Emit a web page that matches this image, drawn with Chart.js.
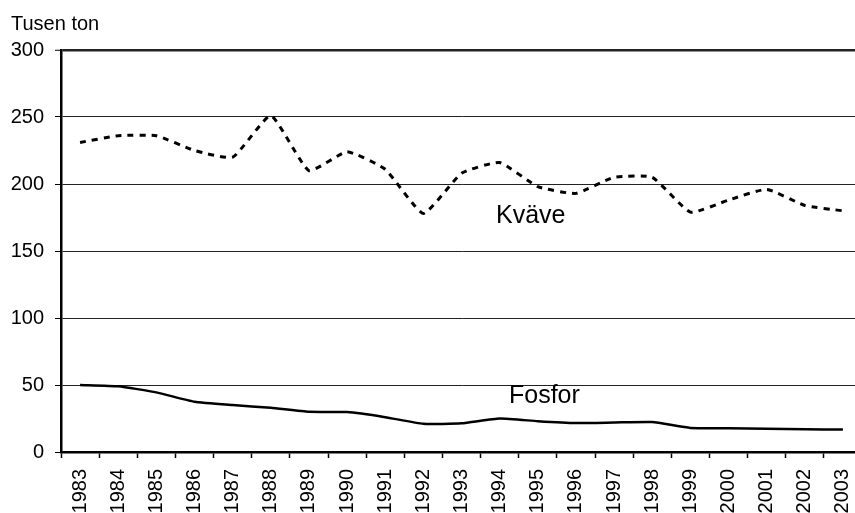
<!DOCTYPE html>
<html lang="sv">
<head>
<meta charset="utf-8">
<title>Kväve och fosfor</title>
<script src="https://cdn.jsdelivr.net/npm/chart.js@4/dist/chart.umd.min.js"></script>
<style>
    html, body { margin: 0; padding: 0; background: #fff; overflow: hidden; }
    #wrap { width: 878px; height: 513px; position: relative; }
</style>
</head>
<body>
<div id="wrap"><canvas id="chart"></canvas></div>
<script>
    // Data
    const years = ['1983', '1984', '1985', '1986', '1987', '1988', '1989', '1990', '1991', '1992', '1993',
        '1994', '1995', '1996', '1997', '1998', '1999', '2000', '2001', '2002', '2003'];
    const kvave = [231, 236, 236, 225, 220, 251, 210, 224, 211, 178, 208,
        216, 198, 193, 205, 205, 179, 188, 196, 184, 180];
    const fosfor = [50, 49, 44.5, 37.5, 35, 33, 30, 29.8, 26, 21, 21.4,
        25, 23, 21.6, 22, 22.4, 18, 17.8, 17.4, 17, 16.7];
    const yTicks = [0, 50, 100, 150, 200, 250, 300];

    const font = '"Liberation Sans", Arial, sans-serif';

    // Texter som ligger direkt i diagrammet
    const labelsPlugin = {
        id: 'labels',
        afterDraw(chart) {
            const c = chart.ctx;
            c.save();
            c.fillStyle = '#000';
            c.textBaseline = 'alphabetic';
            c.textAlign = 'left';
            c.font = '20px ' + font;
            c.fillText('Tusen ton', 11, 30);
            c.font = '25px ' + font;
            c.fillText('Kväve', 496, 223);
            c.fillText('Fosfor', 509, 403);
            c.restore();
        }
    };

    new Chart(document.getElementById('chart'), {
        type: 'line',
        data: {
            labels: years,
            datasets: [
                {
                    label: 'Kväve',
                    data: kvave,
                    borderColor: '#000',
                    borderWidth: 3,
                    borderDash: [6, 6],
                    pointRadius: 0,
                    tension: 0.15,
                    fill: false
                },
                {
                    label: 'Fosfor',
                    data: fosfor,
                    borderColor: '#000',
                    borderWidth: 2.5,
                    pointRadius: 0,
                    tension: 0.15,
                    fill: false
                }
            ]
        },
        options: {
            responsive: true,
            maintainAspectRatio: false,
            animation: false,
            layout: { padding: { top: 50, right: 3, left: 0, bottom: 0 } },
            plugins: {
                legend: { display: false },
                tooltip: { enabled: false }
            },
            scales: {
                x: {
                    offset: true,
                    border: { display: true, color: '#000', width: 2.5 },
                    grid: {
                        offset: true,
                        drawOnChartArea: false,
                        drawTicks: true,
                        tickLength: 6,
                        tickColor: '#000',
                        tickWidth: 1.5
                    },
                    ticks: {
                        color: '#000',
                        font: { family: font, size: 20 },
                        minRotation: 90,
                        maxRotation: 90,
                        autoSkip: false,
                        padding: 11
                    },
                    afterFit(scale) { scale.height = 61; }
                },
                y: {
                    min: 0,
                    max: 300,
                    afterBuildTicks(scale) {
                        scale.ticks = yTicks.map(v => ({ value: v }));
                    },
                    border: { display: true, color: '#000', width: 2.5 },
                    grid: {
                        color: '#222',
                        lineWidth: ctx => (ctx.tick && ctx.tick.value === 300 ? 2.5 : 1),
                        tickLength: 6,
                        tickColor: '#000',
                        tickWidth: 1
                    },
                    ticks: {
                        color: '#000',
                        font: { family: font, size: 20 },
                        padding: 11
                    },
                    afterFit(scale) { scale.width = 61; }
                }
            }
        },
        plugins: [labelsPlugin]
    });
</script>
</body>
</html>
